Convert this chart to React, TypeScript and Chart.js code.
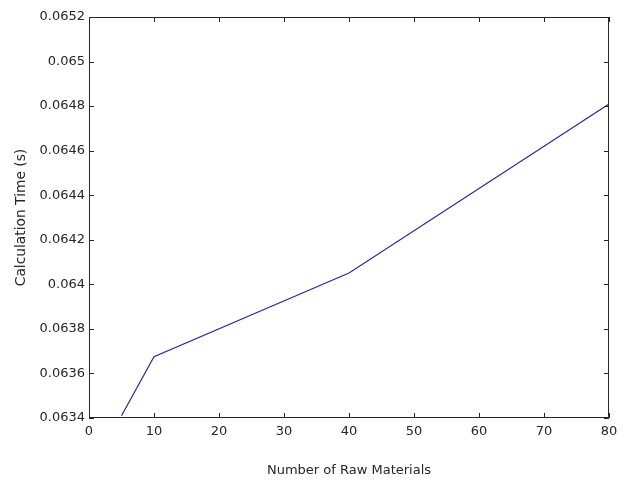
import React, { useEffect, useRef } from "react";
import { Chart, registerables } from "chart.js";

Chart.register(...registerables);

// Calculation time against number of raw materials
const rawMaterials = [5, 10, 40, 80];
const calcTime = [0.06341, 0.063675, 0.064051, 0.064809];

const xMin = 0;
const xMax = 80;
const xStep = 10;
const yMin = 0.0634;
const yMax = 0.0652;
const yStep = 0.0002;

const xTitle = "Number of Raw Materials";
const yTitle = "Calculation Time (s)";

const W = 629;
const H = 481;
const FONT = "'DejaVu Sans', sans-serif";
const INK = "#262626";

// MATLAB-style box with inward tick marks on all four sides
const boxTicks = {
  id: "boxTicks",
  afterDraw(chart: any) {
    const { ctx, chartArea: a } = chart;
    const xs = chart.scales.x;
    const ys = chart.scales.y;
    const len = 5;
    ctx.save();
    ctx.strokeStyle = INK;
    ctx.lineWidth = 1;
    ctx.beginPath();
    ctx.rect(a.left + 0.5, a.top + 0.5, a.right - a.left - 1, a.bottom - a.top - 1);
    xs.ticks.forEach((t: any) => {
      const px = Math.round(xs.getPixelForValue(t.value)) + 0.5;
      ctx.moveTo(px, a.bottom);
      ctx.lineTo(px, a.bottom - len);
      ctx.moveTo(px, a.top);
      ctx.lineTo(px, a.top + len);
    });
    ys.ticks.forEach((t: any) => {
      const py = Math.round(ys.getPixelForValue(t.value)) + 0.5;
      ctx.moveTo(a.left, py);
      ctx.lineTo(a.left + len, py);
      ctx.moveTo(a.right, py);
      ctx.lineTo(a.right - len, py);
    });
    ctx.stroke();
    ctx.restore();
  },
};

const whiteBg = {
  id: "whiteBg",
  beforeDraw(chart: any) {
    const { ctx } = chart;
    ctx.save();
    ctx.fillStyle = "#ffffff";
    ctx.fillRect(0, 0, chart.width, chart.height);
    ctx.restore();
  },
};

export default function App() {
  const ref = useRef<HTMLCanvasElement | null>(null);

  useEffect(() => {
    if (!ref.current) return;
    const chart = new Chart(ref.current, {
      type: "line",
      data: {
        datasets: [
          {
            data: rawMaterials.map((x, i) => ({ x, y: calcTime[i] })),
            borderColor: "#2b2b95",
            borderWidth: 1.2,
            pointRadius: 0,
            tension: 0,
            fill: false,
          },
        ],
      },
      plugins: [whiteBg, boxTicks],
      options: {
        responsive: false,
        animation: false,
        devicePixelRatio: 1,
        layout: { padding: { left: 0, right: 20, top: 17, bottom: 0 } },
        plugins: { legend: { display: false }, tooltip: { enabled: false } },
        scales: {
          x: {
            type: "linear",
            min: xMin,
            max: xMax,
            grid: { display: false, drawTicks: false },
            border: { display: false },
            afterFit: (s: any) => {
              s.height = 63;
            },
            ticks: {
              stepSize: xStep,
              padding: 6,
              color: INK,
              font: { family: FONT, size: 13 },
              maxRotation: 0,
            },
            title: {
              display: true,
              text: xTitle,
              color: INK,
              font: { family: FONT, size: 13 },
              padding: { top: 0, bottom: 3 },
            },
          },
          y: {
            type: "linear",
            min: yMin,
            max: yMax,
            grid: { display: false, drawTicks: false },
            border: { display: false },
            afterFit: (s: any) => {
              s.width = 89;
            },
            ticks: {
              stepSize: yStep,
              padding: 4,
              color: INK,
              font: { family: FONT, size: 13 },
              callback: (v: any) => String(parseFloat(Number(v).toFixed(5))),
            },
            title: {
              display: true,
              text: yTitle,
              color: INK,
              font: { family: FONT, size: 13.8 },
              padding: { top: 13, bottom: 0 },
            },
          },
        },
      },
    });
    return () => chart.destroy();
  }, []);

  return (
    <div style={{ position: "absolute", left: 0, top: 0, width: W, height: H, background: "#fff" }}>
      <canvas ref={ref} width={W} height={H} style={{ display: "block" }} />
    </div>
  );
}
